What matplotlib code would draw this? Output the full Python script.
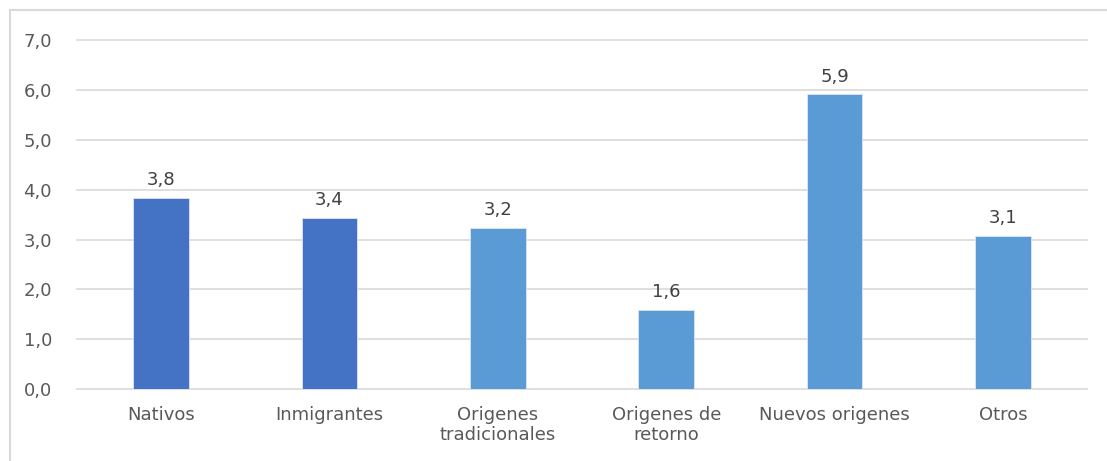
import matplotlib.pyplot as plt
from matplotlib.patches import Rectangle

plt.rcParams['font.family'] = ['DejaVu Sans']

categorias = ['Nativos', 'Inmigrantes', 'Origenes\ntradicionales',
              'Origenes de\nretorno', 'Nuevos origenes', 'Otros']
valores = [3.84, 3.44, 3.24, 1.59, 5.91, 3.08]
colores = ['#4472C4', '#4472C4', '#5B9BD5', '#5B9BD5', '#5B9BD5', '#5B9BD5']
ticks_y = [0, 1, 2, 3, 4, 5, 6, 7]

texto = '#595959'

fig = plt.figure(figsize=(11.07, 4.61), dpi=100)
ax = fig.add_axes([0.0696, 0.156, 0.9124, 0.757])

# marco exterior del grafico
fig.patches.append(Rectangle((10 / 1107, -0.1), 1.2, 1.1 - 10 / 461,
                             transform=fig.transFigure, fill=False,
                             edgecolor='#D9D9D9', linewidth=1.5, clip_on=False))

x = range(len(categorias))
bars = ax.bar(x, valores, width=0.33, color=colores, edgecolor='#DCE6F2',
              linewidth=0.6, zorder=3)

for b, v in zip(bars, valores):
    ax.annotate(f'{v:.1f}'.replace('.', ','),
                (b.get_x() + b.get_width() / 2, v),
                xytext=(0, 6), textcoords='offset points',
                ha='center', va='bottom', fontsize=13, color='#404040')

ax.set_xlim(-0.5, len(categorias) - 0.5)
ax.set_ylim(0, 7)
ax.set_yticks(ticks_y)
ax.set_yticklabels([f'{t:.1f}'.replace('.', ',') for t in ticks_y])
ax.set_xticks(list(x))
ax.set_xticklabels(categorias, linespacing=1.15)

ax.grid(axis='y', color='#D9D9D9', linewidth=1.2, zorder=0)
for gl in ax.get_ygridlines():
    gl.set_clip_on(False)
for s in ax.spines.values():
    s.set_visible(False)
ax.tick_params(axis='both', length=0, labelsize=13, colors=texto)
ax.tick_params(axis='x', pad=12)
ax.tick_params(axis='y', pad=18)

fig.savefig('out.png', dpi=100)
